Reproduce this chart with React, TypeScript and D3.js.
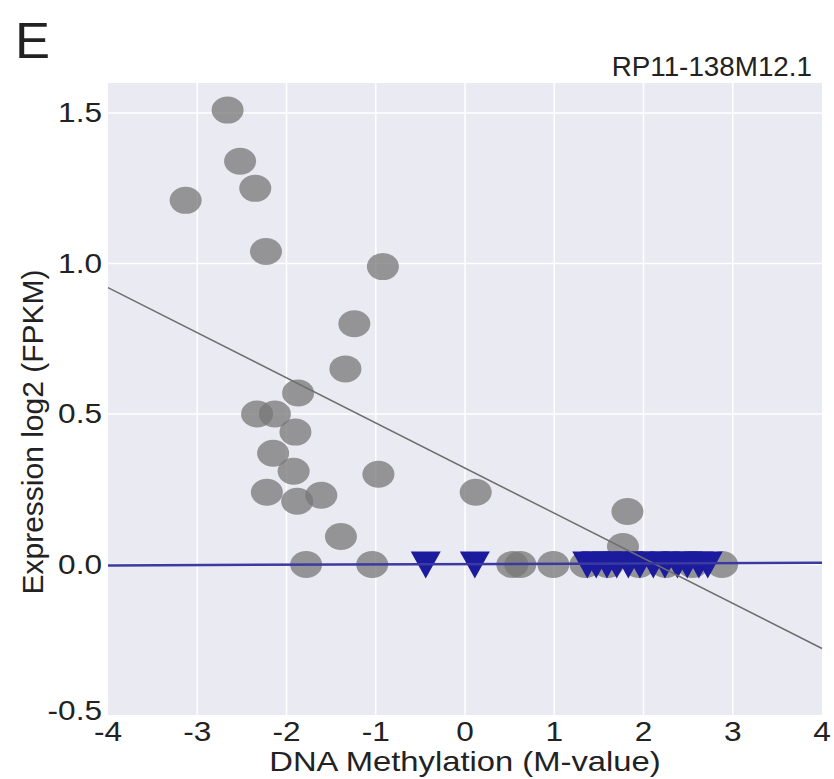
import React from "react";
import * as d3 from "d3";

// circles = samples with expression, triangles = samples at zero
const circleX = [-3.13, -2.66, -2.52, -2.35, -2.23, -0.92, -1.24, -1.34, -1.87, -2.33, -2.13, -1.9, -2.15, -1.92, -0.97, 0.12, -2.22, -1.88, -1.61, -1.39, -1.78, -1.04, 0.53, 0.62, 0.99, 1.82, 1.77, 1.35, 1.6, 1.95, 2.25, 2.55, 2.88];
const circleY = [1.21, 1.51, 1.34, 1.25, 1.04, 0.99, 0.8, 0.65, 0.57, 0.5, 0.5, 0.44, 0.37, 0.31, 0.3, 0.24, 0.24, 0.21, 0.23, 0.093, 0, 0, 0, 0, 0, 0.176, 0.06, 0, 0, 0, 0, 0, 0];
const triX = [-0.44, 0.11, 1.37, 1.47, 1.59, 1.7, 1.83, 1.96, 2.11, 2.24, 2.38, 2.49, 2.62, 2.72];
const triY = [0, 0, 0, 0, 0, 0, 0, 0, 0, 0, 0, 0, 0, 0];

// fitted lines, values at x = -4 and x = 4
const fitX = [-4, 4];
const grayFit = [0.92, -0.279];
const blueFit = [-0.003, 0.006];

const xTicks = [-4, -3, -2, -1, 0, 1, 2, 3, 4];
const yTicks = [-0.5, 0, 0.5, 1.0, 1.5];
const yTickLabels = ["-0.5", "0.0", "0.5", "1.0", "1.5"];

const W = 834;
const H = 779;
const FONT = "'Liberation Sans', Arial, sans-serif";

const x = d3.scaleLinear().domain([-4, 4]).range([108, 822]);
const y = d3.scaleLinear().domain([-0.5, 1.6]).range([715, 83]);

// the picture is a little wider than tall, so text gets stretched sideways
const SText = ({ tx, ty, size, anchor = "start", sx = 1.17, rot, children }: any) => (
  <text
    transform={`translate(${tx},${ty}) scale(${sx},1)${rot ? ` rotate(${rot})` : ""}`}
    textAnchor={anchor}
    fontSize={size}
    fontFamily={FONT}
    fill="#222"
  >
    {children}
  </text>
);

export default function App() {
  const fitLine = d3
    .line<number>()
    .x((_, i) => x(fitX[i]))
    .y((d) => y(d));
  const grayPath = fitLine(grayFit);
  const bluePath = fitLine(blueFit);

  const tri = (cx: number, cy: number) =>
    `M${cx - 15},${cy - 13}L${cx + 15},${cy - 13}L${cx},${cy + 14}Z`;

  return (
    <svg width={W} height={H} style={{ position: "absolute", left: 0, top: 0, background: "#fff" }}>
      <rect x={x(-4)} y={y(1.6)} width={x(4) - x(-4)} height={y(-0.5) - y(1.6)} fill="#eaeaf2" />
      {xTicks.slice(1, -1).map((t) => (
        <line key={"gx" + t} x1={x(t)} x2={x(t)} y1={y(1.6)} y2={y(-0.5)} stroke="#fff" strokeWidth={1.5} />
      ))}
      {yTicks.slice(1).map((t) => (
        <line key={"gy" + t} x1={x(-4)} x2={x(4)} y1={y(t)} y2={y(t)} stroke="#fff" strokeWidth={1.5} />
      ))}

      {circleX.map((cx, i) => (
        <ellipse key={"c" + i} cx={x(cx)} cy={y(circleY[i])} rx={16} ry={13.5} fill="#777" fillOpacity={0.75} />
      ))}
      {triX.map((tx, i) => (
        <path key={"t" + i} d={tri(x(tx), y(triY[i]))} fill="#1b1b9e" />
      ))}

      <path d={grayPath || ""} stroke="#6e6e6e" strokeWidth={1.5} fill="none" />
      <path d={bluePath || ""} stroke="#3a3aa0" strokeWidth={2.5} fill="none" />

      {xTicks.map((t) => (
        <SText key={"xt" + t} tx={x(t)} ty={741} size={27} anchor="middle">
          {String(t)}
        </SText>
      ))}
      {yTicks.map((t, i) => (
        <SText key={"yt" + t} tx={102} ty={y(t) + (t === -0.5 ? 5 : 9)} size={27} anchor="end">
          {yTickLabels[i]}
        </SText>
      ))}

      <SText tx={x(0)} ty={771} size={28} anchor="middle">
        DNA Methylation (M-value)
      </SText>
      <SText tx={43} ty={432} size={30} anchor="middle" sx={1.0} rot={-90}>
        Expression log2 (FPKM)
      </SText>
      <SText tx={812} ty={76} size={27} anchor="end" sx={1.03}>
        RP11-138M12.1
      </SText>
      <SText tx={15} ty={58} size={50} sx={1.05}>
        E
      </SText>
    </svg>
  );
}
